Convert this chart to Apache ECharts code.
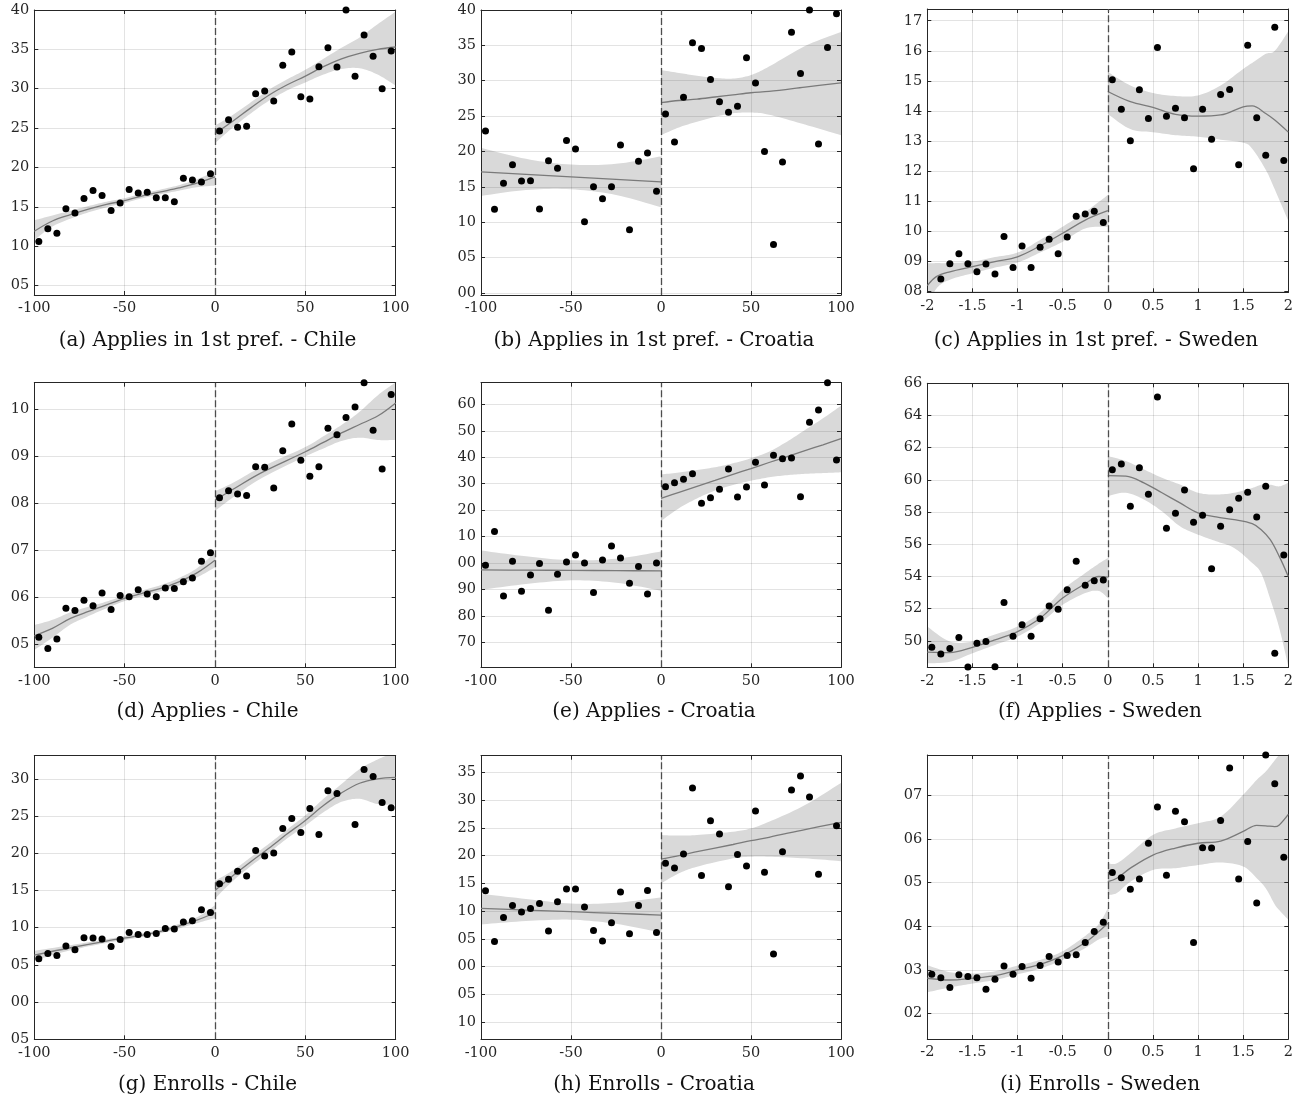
<!DOCTYPE html>
<html>
<head>
<meta charset="utf-8">
<script src="https://cdn.jsdelivr.net/npm/echarts@6/dist/echarts.min.js"></script>
<style>
html,body{margin:0;padding:0;background:#fff;}
#chart{width:1302px;height:1104px;}
</style>
</head>
<body>
<div id="chart"></div>
<script>
// ---------------- DATA ----------------
const binsPoints = [-97.5,-92.5,-87.5,-82.5,-77.5,-72.5,-67.5,-62.5,-57.5,-52.5,-47.5,-42.5,-37.5,-32.5,-27.5,-22.5,-17.5,-12.5,-7.5,-2.5,
  2.5,7.5,12.5,17.5,22.5,27.5,32.5,37.5,42.5,47.5,52.5,57.5,62.5,67.5,72.5,77.5,82.5,87.5,92.5,97.5];
const binsSweden = [-1.95,-1.85,-1.75,-1.65,-1.55,-1.45,-1.35,-1.25,-1.15,-1.05,-0.95,-0.85,-0.75,-0.65,-0.55,-0.45,-0.35,-0.25,-0.15,-0.05,
  0.05,0.15,0.25,0.35,0.45,0.55,0.65,0.75,0.85,0.95,1.05,1.15,1.25,1.35,1.45,1.55,1.65,1.75,1.85,1.95];

const captions = ['(a) Applies in 1st pref. - Chile','(b) Applies in 1st pref. - Croatia','(c) Applies in 1st pref. - Sweden',
  '(d) Applies - Chile','(e) Applies - Croatia','(f) Applies - Sweden',
  '(g) Enrolls - Chile','(h) Enrolls - Croatia','(i) Enrolls - Sweden'];

// x tick labels
const xTicksPoints = [-100,-50,0,50,100];
const xLabelsPoints = ['-100','-50','0','50','100'];
const xTicksSweden = [-2,-1.5,-1,-0.5,0,0.5,1,1.5,2];
const xLabelsSweden = ['-2','-1.5','-1','-0.5','0','0.5','1','1.5','2'];

// y tick values / labels
const yTicksA = [5,10,15,20,25,30,35,40];            const yLabelsA = ['05','10','15','20','25','30','35','40'];
const yTicksB = [0,5,10,15,20,25,30,35,40];          const yLabelsB = ['00','05','10','15','20','25','30','35','40'];
const yTicksC = [8,9,10,11,12,13,14,15,16,17];       const yLabelsC = ['08','09','10','11','12','13','14','15','16','17'];
const yTicksD = [5,6,7,8,9,10];                      const yLabelsD = ['05','06','07','08','09','10'];
const yTicksE = [70,80,90,100,110,120,130,140,150,160]; const yLabelsE = ['70','80','90','00','10','20','30','40','50','60'];
const yTicksF = [50,52,54,56,58,60,62,64,66];        const yLabelsF = ['50','52','54','56','58','60','62','64','66'];
const yTicksG = [-5,0,5,10,15,20,25,30];             const yLabelsG = ['05','00','05','10','15','20','25','30'];
const yTicksH = [-10,-5,0,5,10,15,20,25,30,35];      const yLabelsH = ['10','05','00','05','10','15','20','25','30','35'];
const yTicksI = [2,3,4,5,6,7];                       const yLabelsI = ['02','03','04','05','06','07'];

// binned means
const ptsA = [10.6,12.2,11.65,14.75,14.2,16.06,17.08,16.44,14.53,15.5,17.2,16.74,16.86,16.14,16.14,15.64,18.64,18.4,18.14,19.2,
  24.62,26.06,25.1,25.25,29.36,29.7,28.43,32.97,34.66,28.98,28.69,32.8,35.21,32.75,40.0,31.57,36.82,34.11,30.0,34.79];
const ptsB = [22.9,11.81,15.49,18.13,15.82,15.87,11.85,18.7,17.61,21.53,20.35,10.06,15.02,13.32,15.02,20.92,8.93,18.61,19.79,14.36,
  25.31,21.35,27.67,35.37,34.57,30.18,27.01,25.55,26.4,33.25,29.66,19.98,6.85,18.51,36.84,31.03,40.0,21.06,34.71,39.48];
const ptsC = [7.94,8.42,8.93,9.26,8.93,8.66,8.92,8.59,9.83,8.8,9.52,8.8,9.48,9.74,9.26,9.82,10.51,10.58,10.67,10.3,
  15.04,14.06,13.01,14.71,13.75,16.11,13.83,14.09,13.78,12.08,14.06,13.06,14.55,14.72,12.22,16.19,13.78,12.53,16.78,12.36];
const ptsD = [5.15,4.91,5.11,5.77,5.72,5.94,5.82,6.09,5.74,6.04,6.01,6.16,6.07,6.01,6.2,6.19,6.33,6.41,6.77,6.95,
  8.12,8.27,8.2,8.17,8.78,8.77,8.33,9.12,9.69,8.92,8.58,8.78,9.6,9.46,9.83,10.05,10.57,9.56,8.73,10.32];
const ptsE = [99.12,111.85,87.52,100.63,89.28,95.46,99.75,82.1,95.71,100.38,103.02,100,88.78,101.13,106.43,101.89,92.31,98.61,88.27,100,
  128.86,130.38,131.64,133.78,122.56,124.7,127.86,135.55,124.96,128.74,138.07,129.5,140.71,139.45,139.7,125.08,153.19,157.86,168.19,138.95];
const ptsF = [49.6,49.19,49.52,50.21,48.38,49.86,49.96,48.4,52.39,50.29,51.0,50.29,51.37,52.16,51.97,53.18,54.94,53.45,53.74,53.78,
  60.63,60.98,58.36,60.75,59.11,65.15,56.99,57.93,59.38,57.37,57.8,54.48,57.12,58.14,58.86,59.24,57.7,59.61,49.23,55.33];
const ptsG = [5.81,6.53,6.26,7.52,7.03,8.64,8.6,8.46,7.47,8.42,9.36,9.09,9.09,9.22,9.9,9.81,10.75,10.93,12.41,12.05,
  15.91,16.49,17.57,16.94,20.35,19.63,20.04,23.31,24.66,22.78,26.01,22.51,28.38,28.03,33.14,23.85,31.26,30.31,26.81,26.1];
const ptsH = [13.67,4.54,8.86,11.03,9.83,10.49,11.39,6.4,11.69,13.97,13.97,10.73,6.52,4.6,7.9,13.43,5.92,11.03,13.73,6.16,
  18.6,17.76,20.28,32.18,16.43,26.29,23.88,14.39,20.22,18.12,28.03,16.98,2.26,20.7,31.82,34.34,30.55,16.62,38.06,25.39];
const ptsI = [2.9,2.82,2.6,2.89,2.85,2.82,2.56,2.79,3.09,2.9,3.08,2.81,3.1,3.31,3.18,3.33,3.35,3.63,3.88,4.09,
  5.23,5.11,4.85,5.08,5.9,6.73,5.17,6.63,6.39,3.63,5.8,5.79,6.42,7.62,5.08,5.94,4.53,7.92,7.26,5.58];

// fitted curves: [x, fit, lower, upper]
const fitALeft = [[-100,11.9,10.8,13.3],[-90,13.2,12.5,13.9],[-80,14.0,13.5,14.5],[-70,14.7,14.3,15.1],[-60,15.3,14.95,15.65],[-50,15.8,15.5,16.1],
  [-40,16.4,16.1,16.7],[-30,16.9,16.6,17.2],[-20,17.4,17.05,17.75],[-10,18.0,17.5,18.5],[0,18.8,17.7,19.5]];
const fitARight = [[0,24.3,23.1,25.3],[10,25.9,25.1,26.7],[20,27.6,26.9,28.3],[30,29.2,28.5,29.9],[40,30.5,29.8,31.2],[50,31.6,30.8,32.4],
  [60,32.8,31.8,33.8],[70,33.8,32.5,35.2],[80,34.5,32.6,36.5],[90,35.0,31.8,38.2],[100,35.3,30.4,39.8]];
const fitBLeft = [[-100,17.1,13.7,20.5],[-75,16.75,14.55,18.95],[-50,16.4,14.65,18.15],[-25,16.05,13.85,18.25],[0,15.7,12.1,19.3]];
const fitBRight = [[0,26.9,22.3,31.5],[10,27.2,23.4,31.1],[20,27.4,24.2,30.7],[30,27.7,24.9,30.4],[40,28.0,25.4,30.3],[50,28.3,25.5,30.8],
  [60,28.5,25.2,32.0],[80,29.1,23.8,34.9],[100,29.7,22.3,36.9]];
const fitCLeft = [[-2,8.2,7.45,8.94],[-1.9,8.5,8.1,8.95],[-1.75,8.66,8.4,8.95],[-1.5,8.83,8.61,9.0],[-1.25,9.0,8.8,9.15],[-1.0,9.16,8.97,9.3],
  [-0.75,9.52,9.3,9.72],[-0.5,9.94,9.66,10.16],[-0.25,10.38,10.1,10.65],[0,10.69,10.16,11.21]];
const fitCRight = [[0,14.65,13.9,15.3],[0.25,14.31,13.4,14.85],[0.5,14.12,13.3,14.6],[0.75,13.89,13.2,14.5],[1.0,13.83,13.15,14.52],
  [1.25,13.87,13.05,14.85],[1.5,14.14,12.95,15.4],[1.6,14.17,12.75,15.6],[1.75,13.92,12.05,15.9],[1.85,13.7,11.4,16.0],[2.0,13.3,10.35,16.65]];
const fitDLeft = [[-100,5.18,4.88,5.41],[-90,5.34,5.14,5.52],[-80,5.55,5.42,5.68],[-70,5.70,5.6,5.8],[-60,5.84,5.77,5.91],[-50,5.98,5.92,6.04],
  [-40,6.09,6.03,6.15],[-30,6.19,6.13,6.26],[-20,6.33,6.25,6.41],[-10,6.52,6.42,6.62],[0,6.79,6.64,6.95]];
const fitDRight = [[0,8.07,7.84,8.26],[10,8.3,8.13,8.44],[25,8.64,8.52,8.76],[50,9.1,9.0,9.2],[60,9.3,9.17,9.43],[70,9.5,9.33,9.67],
  [80,9.68,9.4,9.95],[90,9.86,9.35,10.3],[100,10.14,9.35,10.58]];
const fitELeft = [[-100,97.35,89.8,104.7],[-75,97.25,92.0,102.5],[-50,97.2,93.4,101.0],[-25,97.07,92.5,101.6],[0,96.97,89.5,104.3]];
const fitERight = [[0,124.45,115.9,133.5],[10,126.7,120.7,134.2],[20,128.95,124.4,135.2],[30,131.2,127.4,136.2],[40,133.5,129.5,137.7],
  [50,135.7,131.1,139.6],[60,138.0,132.4,142.1],[70,140.2,133.2,145.9],[80,142.5,133.7,150.3],[90,144.7,134.0,154.7],[100,147.0,134.3,159.5]];
const fitFLeft = [[-2,49.3,48.61,50.89],[-1.75,49.27,48.7,49.96],[-1.5,49.6,49.23,49.96],[-1.25,50.06,49.75,50.4],[-1.0,50.58,50.27,50.89],
  [-0.75,51.41,51.1,51.75],[-0.5,52.66,52.24,53.18],[-0.25,53.55,52.97,54.21],[-0.1,54.0,53.1,54.8],[0,53.96,52.66,55.15]];
const fitFRight = [[0,60.27,59.0,61.48],[0.2,60.23,59.2,61.17],[0.4,59.82,58.78,60.65],[0.6,59.2,58.05,60.13],[0.8,58.57,57.12,59.71],
  [1.0,57.95,56.6,59.2],[1.2,57.7,56.19,59.09],[1.4,57.53,55.77,59.2],[1.6,57.28,54.84,59.5],[1.7,56.91,54.2,59.7],[1.8,56.29,52.6,59.7],
  [1.9,55.25,50.8,59.6],[2.0,54.0,48.4,59.82]];
const fitGLeft = [[-100,6.3,5.6,6.9],[-80,7.3,6.95,7.65],[-60,8.2,7.95,8.45],[-40,9.0,8.75,9.25],[-30,9.5,9.25,9.75],[-20,10.2,9.9,10.5],
  [-10,11.0,10.6,11.4],[0,12.0,11.3,13.0]];
const fitGRight = [[0,15.0,13.9,16.3],[10,17.0,16.3,17.7],[20,18.9,18.3,19.5],[30,20.7,20.1,21.3],[40,22.6,22.0,23.2],[50,24.4,23.7,25.1],
  [60,26.4,25.5,27.3],[70,28.1,26.9,29.3],[80,29.4,27.3,31.3],[90,30.0,26.6,32.6],[100,30.2,26.5,33.6]];
const fitHLeft = [[-100,10.49,7.6,13.1],[-75,10.19,8.2,12.2],[-50,9.89,8.45,11.35],[-25,9.59,7.7,11.5],[0,9.29,6.1,12.47]];
const fitHRight = [[0,19.38,15.0,23.7],[10,20.0,16.8,23.6],[20,20.7,18.0,23.7],[40,22.0,19.5,24.3],[50,22.7,19.8,24.9],[60,23.3,19.8,26.1],
  [80,24.7,19.5,29.1],[100,26.0,19.0,33.1]];
const fitILeft = [[-2,2.81,2.49,3.11],[-1.75,2.77,2.6,2.95],[-1.5,2.81,2.69,2.92],[-1.25,2.87,2.77,2.97],[-1.0,3.0,2.9,3.1],[-0.75,3.13,3.03,3.23],
  [-0.5,3.33,3.23,3.43],[-0.25,3.63,3.5,3.78],[-0.1,3.88,3.7,4.05],[0,4.07,3.76,4.41]];
const fitIRight = [[0,5.02,4.72,5.44],[0.1,5.1,4.76,5.44],[0.25,5.33,5.02,5.67],[0.5,5.63,5.29,6.09],[0.75,5.79,5.33,6.24],[1.0,5.9,5.4,6.36],
  [1.25,5.95,5.46,6.51],[1.5,6.17,5.37,7.01],[1.65,6.31,5.1,7.35],[1.75,6.3,4.87,7.54],[1.85,6.28,4.5,7.8],[1.9,6.32,4.37,7.92],[2.0,6.56,4.15,8.08]];

// ---------------- LAYOUT ----------------
const panels = [
  {g:[34.3,10,361.4,285],    y:[3.8,40],     pts:ptsA, bins:binsPoints, fl:fitALeft, fr:fitARight, yt:yTicksA, yl:yLabelsA, sw:false, cap:[207.5,340.7]},
  {g:[481,10,360,285],       y:[-0.3,40],    pts:ptsB, bins:binsPoints, fl:fitBLeft, fr:fitBRight, yt:yTicksB, yl:yLabelsB, sw:false, cap:[654,340.7]},
  {g:[927.3,9,361,283.3],    y:[7.98,17.39], pts:ptsC, bins:binsSweden, fl:fitCLeft, fr:fitCRight, yt:yTicksC, yl:yLabelsC, sw:true,  cap:[1096,340.7]},
  {g:[34.3,382.7,361.4,284.6], y:[4.51,10.57], pts:ptsD, bins:binsPoints, fl:fitDLeft, fr:fitDRight, yt:yTicksD, yl:yLabelsD, sw:false, cap:[207.5,711.7]},
  {g:[481,382.7,360,284.6],  y:[60.5,168.2], pts:ptsE, bins:binsPoints, fl:fitELeft, fr:fitERight, yt:yTicksE, yl:yLabelsE, sw:false, cap:[654,711.7]},
  {g:[927.3,383.3,361,284],  y:[48.36,66],   pts:ptsF, bins:binsSweden, fl:fitFLeft, fr:fitFRight, yt:yTicksF, yl:yLabelsF, sw:true,  cap:[1100,711.7]},
  {g:[34.3,755.7,361.4,283.6], y:[-5,33.1],  pts:ptsG, bins:binsPoints, fl:fitGLeft, fr:fitGRight, yt:yTicksG, yl:yLabelsG, sw:false, cap:[207.5,1085]},
  {g:[481,755.7,360,283.6],  y:[-13.1,38],   pts:ptsH, bins:binsPoints, fl:fitHLeft, fr:fitHRight, yt:yTicksH, yl:yLabelsH, sw:false, cap:[654,1085]},
  {g:[927.3,755,361,284],    y:[1.42,7.92],  pts:ptsI, bins:binsSweden, fl:fitILeft, fr:fitIRight, yt:yTicksI, yl:yLabelsI, sw:true,  cap:[1100,1085]}
];

const AX = '#262626';
const GRIDC = 'rgba(38,38,38,0.13)';
const TICKFONT = 'DejaVu Serif';

function labeler(values, labels) {
  return function (v) {
    const k = values.findIndex(t => Math.abs(t - v) < 1e-6);
    return k >= 0 ? labels[k] : '';
  };
}

// Catmull-Rom smoothing of a pixel path (for drawing the band outline only)
function smoothPath(p) {
  const out = [];
  const n = p.length;
  for (let i = 0; i < n - 1; i++) {
    const p0 = p[Math.max(0, i - 1)], p1 = p[i], p2 = p[i + 1], p3 = p[Math.min(n - 1, i + 2)];
    const steps = 10;
    for (let s = 0; s < steps; s++) {
      const t = s / steps, t2 = t * t, t3 = t2 * t;
      const f = (a, b, c, d) => 0.5 * ((2 * b) + (-a + c) * t + (2 * a - 5 * b + 4 * c - d) * t2 + (-a + 3 * b - 3 * c + d) * t3);
      out.push([f(p0[0], p1[0], p2[0], p3[0]), f(p0[1], p1[1], p2[1], p3[1])]);
    }
  }
  out.push(p[n - 1]);
  return out;
}

function bandSeries(seg, xi, yi) {
  return {
    type: 'custom', xAxisIndex: xi, yAxisIndex: yi, clip: true, z: 0.5, silent: true,
    data: seg.map(r => [r[0], r[2], r[3]]),
    renderItem: function (params, api) {
      if (params.dataIndex !== 0) return null;
      const up = seg.map(r => api.coord([r[0], r[3]]));
      const lo = seg.map(r => api.coord([r[0], r[2]]));
      const pts = smoothPath(up).concat(smoothPath(lo).reverse());
      return {type: 'polygon', shape: {points: pts}, style: {fill: '#d9d9d9', stroke: null}};
    }
  };
}

const grids = [], xAxes = [], yAxes = [], series = [], graphics = [];

panels.forEach((p, i) => {
  grids.push({left: p.g[0], top: p.g[1], width: p.g[2], height: p.g[3], containLabel: false});
  const xt = p.sw ? xTicksSweden : xTicksPoints;
  const xl = p.sw ? xLabelsSweden : xLabelsPoints;
  const xr = p.sw ? [-2, 2] : [-100, 100];
  const common = {type: 'value', gridIndex: i, z: 1};
  xAxes.push(Object.assign({}, common, {
    position: 'bottom', min: xr[0], max: xr[1],
    axisLine: {show: true, onZero: false, lineStyle: {color: AX, width: 1}},
    axisTick: {show: true, inside: true, length: 4, customValues: xt, lineStyle: {color: AX}},
    axisLabel: {show: true, customValues: xt, formatter: labeler(xt, xl), fontFamily: TICKFONT, fontSize: 14.5, color: AX, margin: 6},
    splitLine: {show: true, lineStyle: {color: GRIDC, width: 1}}
  }));
  xAxes.push(Object.assign({}, common, {
    position: 'top', min: xr[0], max: xr[1],
    axisLine: {show: true, onZero: false, lineStyle: {color: AX, width: 1}},
    axisTick: {show: true, inside: true, length: 4, customValues: xt, lineStyle: {color: AX}},
    axisLabel: {show: false}, splitLine: {show: false}
  }));
  yAxes.push(Object.assign({}, common, {
    position: 'left', min: p.y[0], max: p.y[1],
    axisLine: {show: true, onZero: false, lineStyle: {color: AX, width: 1}},
    axisTick: {show: true, inside: true, length: 4, customValues: p.yt, lineStyle: {color: AX}},
    axisLabel: {show: true, customValues: p.yt, formatter: labeler(p.yt, p.yl), fontFamily: TICKFONT, fontSize: 14.5, color: AX, margin: 5},
    splitLine: {show: true, lineStyle: {color: GRIDC, width: 1}}
  }));
  yAxes.push(Object.assign({}, common, {
    position: 'right', min: p.y[0], max: p.y[1],
    axisLine: {show: true, onZero: false, lineStyle: {color: AX, width: 1}},
    axisTick: {show: true, inside: true, length: 4, customValues: p.yt, lineStyle: {color: AX}},
    axisLabel: {show: false}, splitLine: {show: false}
  }));
  const xi = 2 * i, yi = 2 * i;
  [p.fl, p.fr].forEach((seg) => {
    series.push(bandSeries(seg, xi, yi));
    series.push({type: 'line', xAxisIndex: xi, yAxisIndex: yi, symbol: 'none', smooth: 0.35,
      data: seg.map(r => [r[0], r[1]]), lineStyle: {color: '#7a7a7a', width: 1.3}, z: 2, silent: true});
  });
  series.push({type: 'scatter', xAxisIndex: xi, yAxisIndex: yi, symbolSize: 7,
    itemStyle: {color: '#000', opacity: 1}, z: 3, silent: true,
    data: p.bins.map((x, k) => [x, p.pts[k]]),
    markLine: {silent: true, symbol: ['none', 'none'], label: {show: false},
      lineStyle: {color: '#4d4d4d', type: [7, 3], width: 1.3, opacity: 1},
      data: [{xAxis: 0}]}
  });
  graphics.push({type: 'text', x: p.cap[0], y: p.cap[1],
    style: {text: captions[i], font: '20px "DejaVu Serif"', fill: '#111', textAlign: 'center', textVerticalAlign: 'middle',
      align: 'center', verticalAlign: 'middle'}});
});

const chart = echarts.init(document.getElementById('chart'), null, {renderer: 'canvas'});
chart.setOption({
  animation: false,
  backgroundColor: '#fff',
  grid: grids, xAxis: xAxes, yAxis: yAxes, series: series,
  graphic: graphics
});
</script>
</body>
</html>
